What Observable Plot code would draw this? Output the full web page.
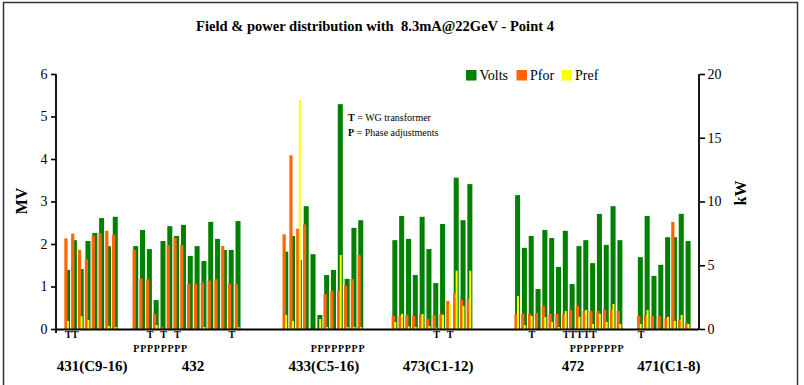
<!DOCTYPE html>
<html><head><meta charset="utf-8">
<script src="https://cdn.jsdelivr.net/npm/d3@7"></script>
<script src="https://cdn.jsdelivr.net/npm/@observablehq/plot@0.6"></script>
<style>body{margin:0;background:#fff} svg{display:block}</style>
</head><body><div id="chart"></div>
<script>
// ---- data ----
const groups = ["431(C9-16)", "432", "433(C5-16)", "473(C1-12)", "472", "471(C1-8)"];

const volts431 = [1.39, 2.09, 1.41, 2.07, 2.26, 2.61, 1.95, 2.64];
const pfor431  = [7.11, 7.48, 6.2, 5.46, 7.32, 7.48, 7.71, 7.4];
const pref431  = [0.63, 0, 1.0, 0.7, 0, 0, 0.24, 0.16];

const volts432 = [1.95, 2.33, 1.88, 0.68, 2.07, 2.42, 2.19, 2.45, 1.72, 1.95, 1.6, 2.52, 2.12, 1.86, 1.86, 2.54];
const pfor432  = [6.2, 3.97, 3.9, 1.18, 0.15, 6.59, 7.14, 6.59, 3.56, 3.56, 3.63, 3.79, 3.9, 6.51, 3.56, 3.56];
const pref432  = [0, 0, 0, 0.31, 0, 0, 0, 0, 0, 0, 0.16, 0, 0, 0, 0, 0.16];

const volts433 = [1.82, 2.19, 1.62, 2.89, 1.76, 0.33, 1.27, 1.39, 5.29, 1.18, 2.38, 2.56];
const pfor433  = [7.42, 13.62, 7.87, 8.2, 0, 0, 2.74, 3.0, 3.0, 3.37, 3.9, 5.8];
const pref433  = [1.1, 0.63, 17.96, 0, 0, 0.78, 0.16, 0, 5.8, 0.16, 0.16, 0.16];

const volts473 = [2.09, 2.66, 2.12, 1.27, 2.64, 1.88, 1.08, 2.47, 0, 3.56, 2.56, 3.41];
const pfor473  = [1.02, 1.02, 1.1, 1.02, 1.1, 0.78, 1.1, 1.18, 2.2, 2.82, 2.27, 2.35];
const pref473  = [0.55, 1.18, 0.2, 0.16, 1.18, 0.24, 0.1, 1.1, 1.96, 4.57, 1.8, 4.57];

const volts472 = [3.15, 1.91, 2.19, 0.94, 2.33, 2.14, 1.46, 2.31, 1.06, 1.95, 2.09, 1.55, 2.71, 1.98, 2.89, 2.09];
const pfor472  = [1.18, 1.18, 1.18, 1.25, 1.8, 1.18, 1.18, 1.18, 1.49, 1.8, 1.41, 1.41, 1.41, 1.49, 1.49, 1.41];
const pref472  = [2.59, 0.31, 1.02, 0, 0.94, 0.55, 0.16, 1.41, 0, 0.94, 1.49, 0.39, 1.18, 0.55, 1.96, 0.39];

const volts471 = [1.69, 2.66, 1.25, 1.51, 2.16, 2.16, 2.71, 2.07];
const pfor471  = [1.02, 1.1, 1.02, 1.02, 0.86, 8.39, 0.71, 0.47];
const pref471  = [0.39, 1.49, 0, 0, 0.94, 0.63, 1.1, 0.39];

// annotation markers: [group index, cavity number]
const tMarkers = [[0,1],[0,2],[1,3],[1,5],[1,7],[1,15],[3,7],[3,9],[4,3],[4,8],[4,9],[4,10],[4,11],[4,12],[5,1]];
const pMarkers = [[1,[1,2,3,4,5,6,7,8]],[2,[5,6,7,8,9,10,11,12]],[4,[9,10,11,12,13,14,15,16]]];

const leftTicks = [0,1,2,3,4,5,6];
const rightTicks = [0,5,10,15,20];
const seriesNames = ["Volts", "Pfor", "Pref"];
const seriesColors = ["#008000", "#ff6600", "#ffff00"];

// ---- build table ----
const series = [
  [volts431, pfor431, pref431], [volts432, pfor432, pref432], [volts433, pfor433, pref433],
  [volts473, pfor473, pref473], [volts472, pfor472, pref472], [volts471, pfor471, pref471]
];
const K = 6 / 20; // kW -> MV-axis units
const keyOf = (gi, i) => `${groups[gi]}#${i}`;
const rows = [];
series.forEach(([v, pf, pr], gi) => v.forEach((_, i) => rows.push({key: keyOf(gi, i + 1), volts: v[i], pfor: pf[i], pref: pr[i]})));

// category layout with empty slots between groups
const gapBefore = [1, 2, 6, 4, 6, 2];
const domain = [];
let gid = 0;
series.forEach(([v], gi) => {
  for (let k = 0; k < gapBefore[gi]; k++) domain.push(`gap${gid++}`);
  v.forEach((_, i) => domain.push(keyOf(gi, i + 1)));
});
domain.push(`gap${gid++}`);

const tRows = tMarkers.map(([gi, c]) => ({key: keyOf(gi, c)}));
const pRows = pMarkers.flatMap(([gi, cs]) => cs.map(c => ({key: keyOf(gi, c)})));

const bw = 641 / domain.length;
const labelShift = [0, 5.5, 0, 5, 3.5, 4];
const groupLabelMarks = series.map(([v], gi) => Plot.text([groups[gi]], {
  x: () => keyOf(gi, v.length / 2 + 1), text: d => d, frameAnchor: "bottom",
  dy: 41, dx: -bw / 2 + labelShift[gi], fontWeight: "bold", fontSize: 15, fill: "black"
}));

const chart = Plot.plot({
  width: 804, height: 385,
  marginLeft: 56, marginRight: 105, marginTop: 74, marginBottom: 56,
  style: {fontFamily: "'Liberation Serif', 'Times New Roman', serif", fontSize: "14px", color: "black", background: "white", overflow: "visible"},
  x: {type: "band", domain, range: [57.5, 698.5], padding: 0, round: false, axis: null},
  y: {domain: [0, 6], axis: null},
  marks: [
    Plot.barY(rows, {x: "key", y: "volts", fill: seriesColors[0], insetLeft: 0.7, insetRight: 1.1}),
    Plot.barY(rows, {x: "key", y: d => d.pfor * K, fill: seriesColors[1], insetLeft: 0, insetRight: 3.6}),
    Plot.barY(rows, {x: "key", y: d => d.pref * K, fill: seriesColors[2], insetLeft: 2.6, insetRight: 2.2}),
    Plot.ruleY([0], {stroke: "black", strokeWidth: 2}),
    Plot.axisY(leftTicks, {anchor: "left", tickSize: 5, tickPadding: 4, fontSize: 14, strokeWidth: 1.6, label: null, tickFormat: d => d}),
    Plot.axisY(rightTicks.map(t => t * K), {anchor: "right", tickSize: 5, tickPadding: 3, fontSize: 14, strokeWidth: 1.6, label: null, tickFormat: d => Math.round(d / K)}),
    Plot.text(tRows, {x: "key", text: () => "T", frameAnchor: "bottom", dy: 8, fontWeight: "bold", fontSize: 10, fill: "black"}),
    Plot.text(pRows, {x: "key", text: () => "P", frameAnchor: "bottom", dy: 22, fontWeight: "bold", fontSize: 10, fill: "black"}),
    ...groupLabelMarks
  ]
});
document.getElementById("chart").appendChild(chart);

// ---- decorations ----
const svg = d3.select(chart);
const font = "'Liberation Serif', 'Times New Roman', serif";
svg.insert("rect", ":first-child").attr("x", 0).attr("y", 0).attr("width", 804).attr("height", 385).attr("fill", "white");
svg.append("rect").attr("x", 3.5).attr("y", 2.5).attr("width", 794).attr("height", 392)
  .attr("fill", "none").attr("stroke", "#333").attr("stroke-width", 1.5);
// axis lines
svg.append("line").attr("x1", 56).attr("x2", 56).attr("y1", 74).attr("y2", 333).attr("stroke", "black").attr("stroke-width", 1.8);
svg.append("line").attr("x1", 699).attr("x2", 699).attr("y1", 74).attr("y2", 330).attr("stroke", "black").attr("stroke-width", 1.8);
// title
svg.append("text").attr("x", 375).attr("y", 31).attr("text-anchor", "middle")
  .style("font-family", font).style("font-weight", "bold").style("font-size", "14px").style("white-space", "pre")
  .attr("textLength", 358).attr("lengthAdjust", "spacingAndGlyphs")
  .text("Field & power distribution with  8.3mA@22GeV - Point 4");
// axis titles
svg.append("text").attr("transform", "translate(27,201) rotate(-90)").attr("text-anchor", "middle")
  .style("font-family", font).style("font-weight", "bold").style("font-size", "16px").text("MV");
svg.append("text").attr("transform", "translate(746,193) rotate(-90)").attr("text-anchor", "middle")
  .style("font-family", font).style("font-weight", "bold").style("font-size", "16px").text("kW");
// legend
const legX = [466, 516.5, 561.5];
seriesNames.forEach((n, i) => {
  svg.append("rect").attr("x", legX[i]).attr("y", 70).attr("width", 10.5).attr("height", 10.5).attr("fill", seriesColors[i]);
  svg.append("text").attr("x", legX[i] + 13.5).attr("y", 80).attr("text-anchor", "start")
    .style("font-family", font).style("font-size", "14px").text(n);
});
// annotation
const ann = [["T", " = WG transformer", 121], ["P", " = Phase adjustments", 136]];
ann.forEach(([b, rest, y]) => {
  const t = svg.append("text").attr("x", 348).attr("y", y).attr("text-anchor", "start")
    .style("font-family", font).style("font-size", "10px").style("white-space", "pre");
  t.append("tspan").style("font-weight", "bold").text(b);
  t.append("tspan").text(rest);
});
</script>
</body></html>
